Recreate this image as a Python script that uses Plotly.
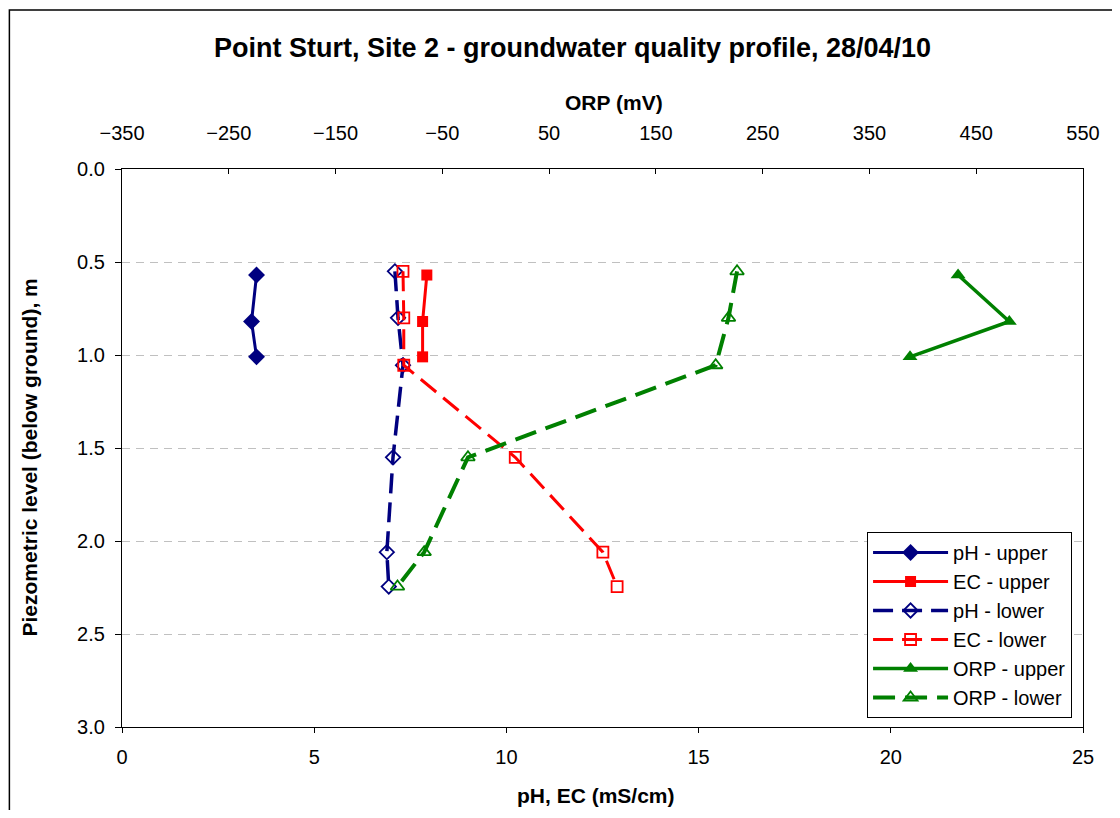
import plotly.graph_objects as go

# ---- data ----
depth_upper = [0.57, 0.82, 1.01]
depth_lower = [0.55, 0.80, 1.055, 1.55, 2.06, 2.245]

ph_upper = [3.50, 3.37, 3.50]
ec_upper = [7.93, 7.82, 7.82]
orp_upper = [433, 481, 388]

ph_lower = [7.10, 7.18, 7.31, 7.05, 6.89, 6.94]
ec_lower = [7.31, 7.33, 7.33, 10.23, 12.51, 12.88]
orp_lower = [226, 218, 206, -26, -67, -92]

title = "Point Sturt, Site 2 - groundwater quality profile, 28/04/10"
navy = "#000080"
red = "#FF0000"
green = "#008000"
FONT = "Liberation Sans, Arial, sans-serif"

fig = go.Figure()

def add(x, y, name, color, symbol, dash, axis="x", size=10, width=3):
    fig.add_trace(go.Scatter(
        x=x, y=y, name=name, mode="lines+markers", xaxis=axis, yaxis="y",
        legendgroup=name,
        line=dict(color=color, width=width, dash=dash),
        marker=dict(symbol=symbol, size=size, color=color,
                    line=dict(color=color, width=1.8 if "open" in symbol else 0)),
    ))

add(ph_upper, depth_upper, "pH - upper", navy, "diamond", "solid", size=13)
add(ec_upper, depth_upper, "EC - upper", red, "square", "solid", size=11)
add(ph_lower, depth_lower, "pH - lower", navy, "diamond-open", "20px,9px", size=11, width=3.5)
add(ec_lower, depth_lower, "EC - lower", red, "square-open", "20px,9px", size=11, width=3)
add(orp_upper, depth_upper, "ORP - upper", green, "triangle-up", "solid", axis="x2", size=13, width=3.5)
add(orp_lower, depth_lower, "ORP - lower", green, "triangle-up-open", "22px,10px", axis="x2", size=12, width=4)

# page body has an 8px margin: coordinates below are in figure pixels
OFF = 8
W, H = 1120 - 2 * OFF, 818 - 2 * OFF
L, R, T, B = 122 - OFF, 1088 - OFF, 169 - OFF, 727 - OFF

def px(xp):
    return (xp - OFF - L) / (R - L)

def py(yp):
    return (B - (yp - OFF)) / (B - T)

tickfont = dict(family=FONT, size=20, color="black")

fig.update_layout(
    width=W, height=H,
    margin=dict(l=L, r=W - R, t=T, b=H - B, pad=0),
    paper_bgcolor="white", plot_bgcolor="white",
    showlegend=True,
    xaxis=dict(range=[0, 25], dtick=5, tick0=0, showgrid=False, zeroline=False,
               showline=True, linecolor="black", linewidth=1.2, mirror=False,
               ticks="outside", ticklen=5, tickcolor="black", tickfont=tickfont,
               ticklabelstandoff=7),
    xaxis2=dict(range=[-350, 550], dtick=100, tick0=-350, overlaying="x", side="top",
                showgrid=False, zeroline=False, showline=True, linecolor="black",
                linewidth=1.2, ticks="inside", ticklen=5, tickcolor="black",
                tickfont=tickfont, ticklabelstandoff=20),
    yaxis=dict(range=[3, 0], dtick=0.5, tick0=0, tickformat=".1f",
               showgrid=True, gridcolor="#C0C0C0", griddash="8px,6px", gridwidth=1,
               zeroline=False, showline=True, linecolor="black", linewidth=1.2,
               mirror=True, ticks="outside", ticklen=6, tickcolor="black",
               tickfont=tickfont, ticklabelstandoff=6),
    legend=dict(x=px(1077), y=py(532), xanchor="right", yanchor="top",
                bgcolor="white", bordercolor="black", borderwidth=1,
                font=dict(family=FONT, size=20, color="black"),
                tracegroupgap=0, itemwidth=75),
    font=dict(family=FONT, color="black"),
)

# outer chart border
fig.add_shape(type="rect", xref="paper", yref="paper",
              x0=px(8.8), x1=px(1140), y0=py(10), y1=py(840),
              line=dict(color="black", width=1.5))

def label(text, xp, yp, size, angle=0):
    fig.add_annotation(text=text, xref="paper", yref="paper",
                       x=px(xp), y=py(yp), xanchor="center", yanchor="middle",
                       showarrow=False, textangle=angle,
                       font=dict(family=FONT, size=size, color="black"))

label("<b>" + title + "</b>", 575, 48, 27)
label("<b>ORP (mV)</b>", 617, 102, 21)
label("<b>pH, EC (mS/cm)</b>", 598, 796, 21)
label("<b>Piezometric level (below ground), m</b>", 29, 457, 21, angle=-90)

fig.write_html("out.html")
